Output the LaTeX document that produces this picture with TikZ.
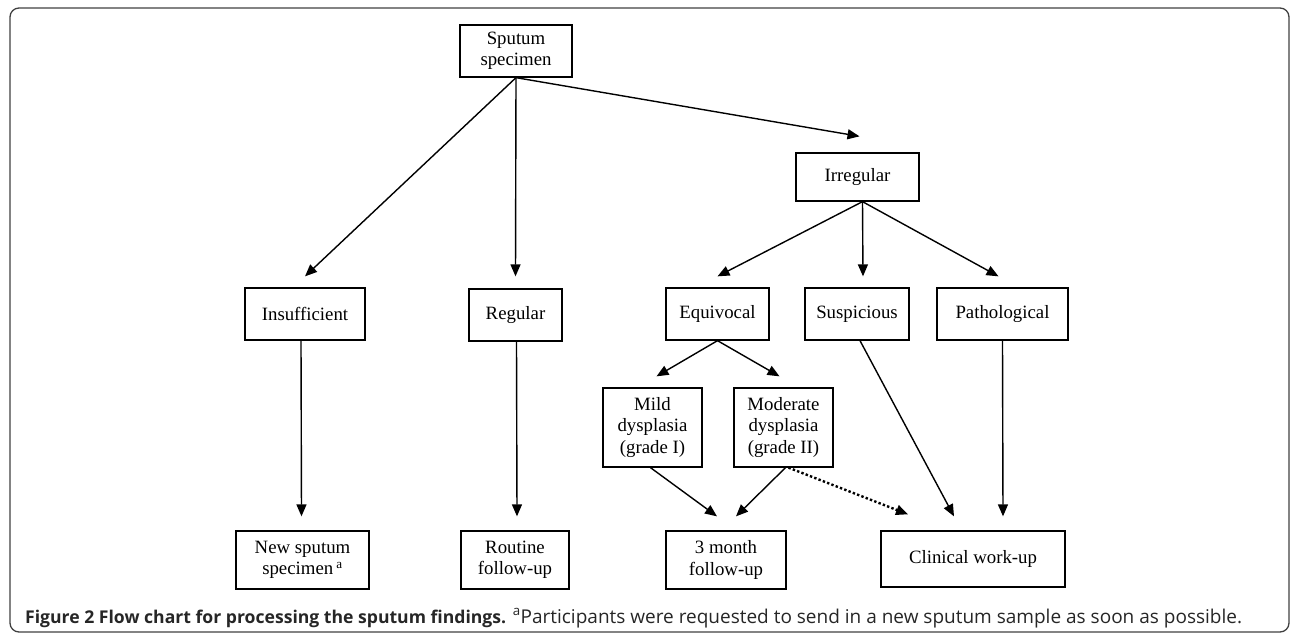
\documentclass[tikz,border=0pt]{standalone}
\usepackage{fontspec}
\setmainfont{Liberation Serif}
\newfontfamily\capfont{Open Sans}
\usetikzlibrary{arrows.meta}

\tikzset{
  box/.style={draw, line width=1.3bp, align=center, inner sep=0pt,
    font=\fontsize{18.8bp}{21.5bp}\selectfont},
  arr/.style={line width=1.4bp, -{Triangle[length=12bp,width=10bp]}},
  dotarr/.style={line width=2.4bp, dash pattern=on 2.4bp off 2.2bp,
    -{Triangle[length=12bp,width=10bp]}},
}

\begin{document}
\begin{tikzpicture}[x=1bp, y=-1bp]
  \useasboundingbox (0,0) rectangle (1292,634);
  \draw[line width=1.3bp, rounded corners=9bp, black!75] (10,8) rectangle (1289,632);

  % boxes
  \node[box, minimum width=112bp, minimum height=52bp] (spec) at (516,51) {Sputum\\specimen};
  \node[box, minimum width=123bp, minimum height=48bp] (irreg) at (857.5,177) {Irregular};
  \node[box, minimum width=120bp, minimum height=52bp] (insuf) at (305,314) {Insufficient};
  \node[box, minimum width=93bp, minimum height=52bp] (regul) at (515.5,315) {Regular};
  \node[box, minimum width=103bp, minimum height=52bp] (equiv) at (717.5,314) {Equivocal};
  \node[box, minimum width=104bp, minimum height=52bp] (suspi) at (857,314) {Suspicious};
  \node[box, minimum width=131bp, minimum height=52bp] (patho) at (1002.5,314) {Pathological};
  \node[box, minimum width=99bp, minimum height=79bp] (mild) at (652.5,427.5) {Mild\\dysplasia\\(grade I)};
  \node[box, minimum width=99bp, minimum height=79bp] (moder) at (783.5,427.5) {Moderate\\dysplasia\\(grade II)};
  \node[box, minimum width=133bp, minimum height=58bp] (newspec) at (302.5,560) {New sputum\\specimen\,\textsuperscript{a}};
  \node[box, minimum width=108bp, minimum height=58bp] (routine) at (515,560) {Routine\\follow-up};
  \node[box, minimum width=120bp, minimum height=58bp] (three) at (726,560) {3 month\\follow-up};
  \node[box, minimum width=184bp, minimum height=56bp] (clin) at (973,559) {Clinical work-up};

  % arrows
  \draw[arr] (spec.south) -- ([yshift=11bp]insuf.north);
  \draw[arr] (spec.south) -- ([yshift=12bp]regul.north);
  \draw[arr] (spec.south) -- ([xshift=2bp,yshift=16bp]irreg.north);
  \draw[arr] ([xshift=5bp]irreg.south) -- ([yshift=11bp]equiv.north);
  \draw[arr] ([xshift=5bp]irreg.south) -- ([xshift=6bp,yshift=11bp]suspi.north);
  \draw[arr] ([xshift=5bp]irreg.south) -- ([xshift=-4bp,yshift=11bp]patho.north);
  \draw[arr] (equiv.south) -- ([xshift=4bp,yshift=11bp]mild.north);
  \draw[arr] (equiv.south) -- ([xshift=-4bp,yshift=11bp]moder.north);
  \draw[arr] ([xshift=-4bp]insuf.south) -- ([xshift=-1bp,yshift=14bp]newspec.north);
  \draw[arr] ([xshift=1bp]regul.south) -- ([xshift=2bp,yshift=14bp]routine.north);
  \draw[arr] ([xshift=-2bp]mild.south) -- ([xshift=-9bp,yshift=14bp]three.north);
  \draw[arr] ([xshift=2bp]moder.south) -- ([xshift=10bp,yshift=14bp]three.north);
  \draw[dotarr] ([xshift=5bp]moder.south) -- ([xshift=-65bp,yshift=16bp]clin.north);
  \draw[arr] ([xshift=3bp]suspi.south) -- ([xshift=-19bp,yshift=14bp]clin.north);
  \draw[arr] (patho.south) -- ([xshift=30bp,yshift=14bp]clin.north);

  % caption
  \node[anchor=base west, inner sep=0pt, text=black!85,
    font=\capfont\fontsize{19bp}{22bp}\selectfont] (caption) at (25,623)
    {{\fontsize{17.6bp}{22bp}\selectfont\bfseries Figure 2 Flow chart for processing the sputum findings.} \textsuperscript{a}Participants were requested to send in a new sputum sample as soon as possible.};
\end{tikzpicture}
\end{document}
